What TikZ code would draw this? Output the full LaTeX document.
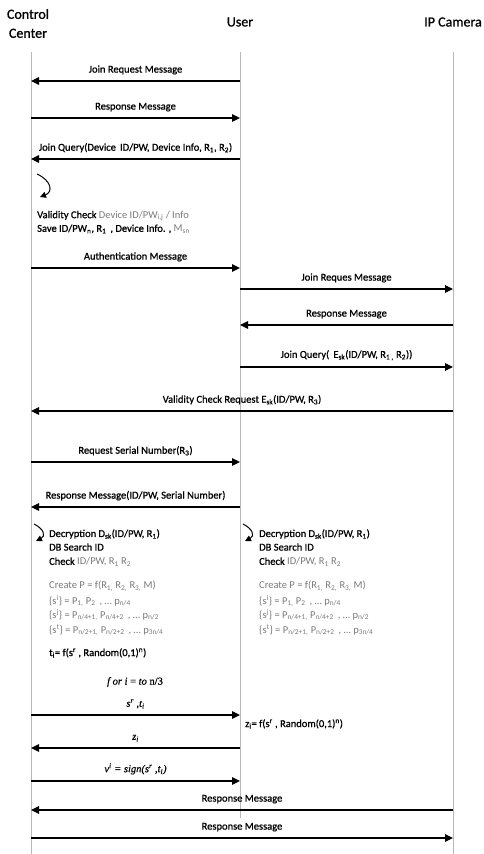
\documentclass[tikz,border=0pt]{standalone}
\usepackage{fontspec}
\setmainfont{Carlito}[FakeBold=0.9]
\newfontfamily\plainfont{Carlito}
\newfontfamily\serifit{Liberation Serif}[FakeBold=0.6]
\usetikzlibrary{arrows.meta}
\definecolor{lifegray}{HTML}{B8B8B8}
\definecolor{txtgray}{HTML}{7A7A7A}
\newcommand{\dsub}[1]{\textsubscript{#1}}
\newcommand{\dsup}[1]{\textsuperscript{#1}}
\newcommand{\gr}[1]{{\plainfont\color{txtgray}#1}}
\begin{document}
\begin{tikzpicture}[x=1pt,y=-1pt,
  life/.style={draw=lifegray, line width=0.9pt},
  msg/.style={line width=1.2pt, -{Triangle[length=8pt,width=7.5pt]}},
  lbl/.style={font=\fontsize{10.5}{12}\selectfont, inner sep=1pt, above=5pt},
  hdr/.style={font=\fontsize{14}{16}\selectfont, align=center, inner sep=0pt},
  txt/.style={font=\fontsize{10.5}{12}\selectfont, anchor=west, inner sep=0pt},
  gtxt/.style={txt, font=\fontsize{10.5}{12}\selectfont\plainfont, text=txtgray},
  selfarrow/.style={line width=1pt, -{Triangle[length=6pt,width=6pt]}}]
\useasboundingbox (0,0) rectangle (484,854);
\fill[white] (0,0) rectangle (484,854);
% headers
\node[hdr] (hcc) at (28,23.5) {Control\\[3pt]Center};
\node[hdr] (hu) at (240,22) {User};
\node[hdr] (hp) at (453,22) {IP Camera};
% lifelines
\coordinate (cctop) at (31,52);  \coordinate (ccbot) at (31,854);
\coordinate (utop) at (240,52);  \coordinate (ubot) at (240,818);
\coordinate (ptop) at (453,52);  \coordinate (pbot) at (453,854);
\draw[life] (cctop) -- (ccbot);
\draw[life] (utop) -- (ubot);
\draw[life] (ptop) -- (pbot);
% message anchor points
\foreach \n/\y in {1/81,2/118,3/159,4/268,5/289,6/325,7/367,8/411,9/462,10/507,11/715,12/748,13/781,14/810,15/838}{
  \coordinate (c\n) at (31,\y);
  \coordinate (u\n) at (240,\y);
  \coordinate (p\n) at (453,\y);
}
% messages
\draw[msg] (u1) -- node[lbl] (l1) {Join Request Message} (c1);
\draw[msg] (c2) -- node[lbl] (l2) {Response Message} (u2);
\draw[msg] (u3) -- node[lbl] (l3) {Join Query(Device\, ID/PW, Device Info, R\dsub{1}, R\dsub{2})} (c3);
\draw[msg] (c4) -- node[lbl] (l4) {Authentication Message} (u4);
\draw[msg] (u5) -- node[lbl] (l5) {Join Reques Message} (p5);
\draw[msg] (p6) -- node[lbl] (l6) {Response Message} (u6);
\draw[msg] (u7) -- node[lbl] (l7) {Join Query(\, E\dsub{sk}(ID/PW, R\dsub{1 ,} R\dsub{2}))} (p7);
\draw[msg] (p8) -- node[lbl] (l8) {Validity Check Request E\dsub{sk}(ID/PW, R\dsub{3})} (c8);
\draw[msg] (c9) -- node[lbl] (l9) {Request Serial Number(R\dsub{3})} (u9);
\draw[msg] (u10) -- node[lbl] (l10) {Response Message(ID/PW, Serial Number)} (c10);
\draw[msg] (c11) -- node[lbl] (l11) {\serifit\itshape s\dsup{r} ,t\dsub{i}} (u11);
\draw[msg] (u12) -- node[lbl] (l12) {\serifit\itshape z\dsub{i}} (c12);
\draw[msg] (c13) -- node[lbl] (l13) {\serifit\itshape v\dsup{i} = sign(s\dsup{r} ,t\dsub{i})} (u13);
\draw[msg] (p14) -- node[lbl] (l14) {Response Message} (c14);
\draw[msg] (c15) -- node[lbl] (l15) {Response Message} (p15);
% self arrows
\coordinate (sa1) at (37,174); \coordinate (sa1e) at (40,197);
\draw[selfarrow] (sa1) .. controls (52,181) and (53,192) .. (sa1e);
\coordinate (sa2) at (34,524); \coordinate (sa2e) at (36,541);
\draw[selfarrow] (sa2) .. controls (44,529) and (46,536) .. (sa2e);
\coordinate (sa3) at (243,524); \coordinate (sa3e) at (245,541);
\draw[selfarrow] (sa3) .. controls (253,529) and (255,536) .. (sa3e);
% validity check block
\node[txt] (v1) at (37,216) {Validity Check \gr{Device ID/PW\dsub{i,j} / Info}};
\node[txt] (v2) at (37,229) {Save ID/PW\dsub{n}, R\dsub{1}\, , Device Info. , \gr{M\dsub{sn}}};
% left block
\node[txt] (a1) at (49,534) {Decryption D\dsub{sk}(ID/PW, R\dsub{1})};
\node[txt] (a2) at (49,547) {DB Search ID};
\node[txt] (a3) at (49,562) {Check \gr{ID/PW, R\dsub{1} R\dsub{2}}};
\node[gtxt] (a4) at (49,586) {Create P = f(R\dsub{1,} R\dsub{2,} R\dsub{3,} M)};
\node[gtxt] (a5) at (49,601) {\{s\dsup{i}\} = P\dsub{1,} P\dsub{2}\, , … p\dsub{n/4}};
\node[gtxt] (a6) at (49,615) {\{s\dsup{j}\} = P\dsub{n/4+1,} P\dsub{n/4+2}\, , … p\dsub{n/2}};
\node[gtxt] (a7) at (49,630) {\{s\dsup{t}\} = P\dsub{n/2+1,} P\dsub{n/2+2}\, , … p\dsub{3n/4}};
\node[txt] (a8) at (49,653) {t\dsub{i}= f(s\dsup{r} , Random(0,1)\dsup{n})};
% right block
\node[txt] (b1) at (259,534) {Decryption D\dsub{sk}(ID/PW, R\dsub{1})};
\node[txt] (b2) at (259,547) {DB Search ID};
\node[txt] (b3) at (259,562) {Check \gr{ID/PW, R\dsub{1} R\dsub{2}}};
\node[gtxt] (b4) at (259,586) {Create P = f(R\dsub{1,} R\dsub{2,} R\dsub{3,} M)};
\node[gtxt] (b5) at (259,601) {\{s\dsup{i}\} = P\dsub{1,} P\dsub{2}\, , … p\dsub{n/4}};
\node[gtxt] (b6) at (259,615) {\{s\dsup{j}\} = P\dsub{n/4+1,} P\dsub{n/4+2}\, , … p\dsub{n/2}};
\node[gtxt] (b7) at (259,630) {\{s\dsup{t}\} = P\dsub{n/2+1,} P\dsub{n/2+2}\, , … p\dsub{3n/4}};
% loop
\node[font=\fontsize{10.5}{12}\selectfont\serifit, inner sep=0pt] (loop) at (135,682) {\textit{f or i} = \textit{to} n/3};
\node[txt] (z) at (245,724) {z\dsub{i}= f(s\dsup{r} , Random(0,1)\dsup{n})};
\end{tikzpicture}
\end{document}
